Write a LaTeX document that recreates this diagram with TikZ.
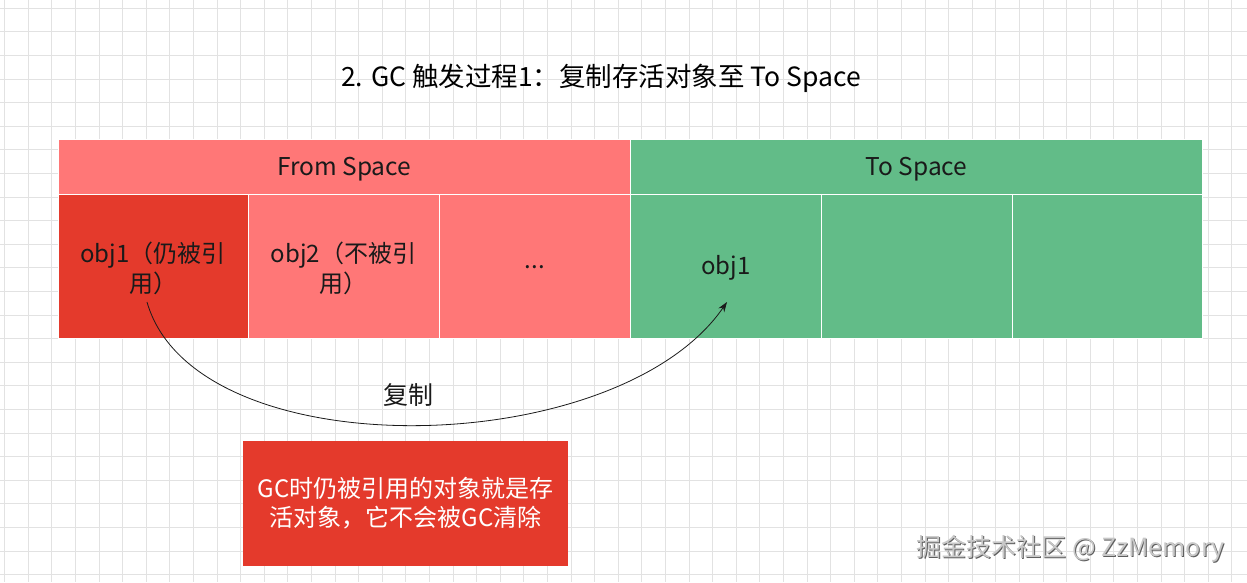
\documentclass[tikz,border=0pt]{standalone}
\usepackage{fontspec}
\setmainfont{Noto Sans CJK SC}
\usetikzlibrary{arrows.meta}
\definecolor{lightred}{HTML}{FF7777}
\definecolor{deepred}{HTML}{E43A2C}
\definecolor{spacegreen}{HTML}{62BC88}
\definecolor{gridgrey}{HTML}{E2E2E2}
\definecolor{txt}{HTML}{1A1A1A}
\definecolor{wmdark}{HTML}{5E5E5E}
\definecolor{wmlight}{HTML}{C8C8C8}
\begin{document}
\begin{tikzpicture}[x=1pt,y=-1pt,
  gridline/.style={draw=gridgrey,line width=0.9pt},
  cellbox/.style={draw=white,line width=1pt,minimum height=144pt,inner sep=0pt},
  celltext/.style={font=\fontsize{24pt}{30pt}\selectfont,text=txt,align=center,inner sep=0pt},
  headbox/.style={draw=white,line width=1pt,minimum height=55.5pt,inner sep=0pt},
  headtext/.style={font=\fontsize{24.5pt}{28pt}\selectfont,text=txt,inner sep=0pt},
  copyarrow/.style={draw=txt,line width=0.8pt,-{Stealth[length=10pt,width=7pt]}}]
\useasboundingbox (0,0) rectangle (1247,582);
\fill[white] (0,0) rectangle (1247,582);
\foreach \i in {0,...,52} \draw[gridline] ({4.7+23.6*\i},0) -- ({4.7+23.6*\i},582);
\foreach \j in {0,...,24} \draw[gridline] (0,{8.3+23.6*\j}) -- (1247,{8.3+23.6*\j});
% title
\node[font=\fontsize{26.5pt}{30pt}\selectfont,text=black] (title) at (601,78) {2. GC 触发过程1：复制存活对象至 To Space};
% headers
\node[headbox,fill=lightred,minimum width=572.5pt] (from) at (344.25,166.75) {};
\node[headbox,fill=spacegreen,minimum width=572pt] (to) at (916.5,166.75) {};
\node[headtext] (fromt) at ([yshift=-2.5pt]from.center) {From Space};
\node[headtext] (tot) at ([yshift=-2.5pt]to.center) {To Space};
% cells
\node[cellbox,fill=deepred,minimum width=190pt] (c1) at (153,266.5) {};
\node[cellbox,fill=lightred,minimum width=191pt] (c2) at (343.5,266.5) {};
\node[cellbox,fill=lightred,minimum width=191.5pt] (c3) at (534.75,266.5) {};
\node[cellbox,fill=spacegreen,minimum width=191pt] (c4) at (726,266.5) {};
\node[cellbox,fill=spacegreen,minimum width=191pt] (c5) at (917,266.5) {};
\node[cellbox,fill=spacegreen,minimum width=190pt] (c6) at (1107.5,266.5) {};
\node[celltext] (t1) at ([yshift=-2pt]c1.center) {obj1（仍被引\\用）};
\node[celltext] (t2) at ([yshift=-2pt]c2.center) {obj2（不被引\\用）};
\node[celltext] (t3) at ([yshift=-1pt]c3.center) {...};
\node[celltext] (t4) at ([yshift=-1.5pt]c4.center) {obj1};
% copy arrow
\coordinate (s) at (147,302);
\coordinate (t) at (727,302);
\draw[copyarrow] (s) .. controls (195,470) and (617,462) .. (t);
\node[font=\fontsize{25pt}{28pt}\selectfont,text=txt] (copy) at (408,395) {复制};
% note
\node[fill=deepred,minimum width=325pt,minimum height=125pt,inner sep=0pt,
  text=white,align=center,font=\fontsize{24pt}{29pt}\selectfont] (note) at (405.5,503.5)
  {GC时仍被引用的对象就是存\\活对象，它不会被GC清除};
% watermark
\node[anchor=east,text=wmdark,font=\fontsize{25pt}{28pt}\selectfont] (wms) at (1229,550) {掘金技术社区 @ ZzMemory};
\node[anchor=east,text=wmlight,font=\fontsize{25pt}{28pt}\selectfont] (wm) at (1228,549) {掘金技术社区 @ ZzMemory};
\end{tikzpicture}
\end{document}
